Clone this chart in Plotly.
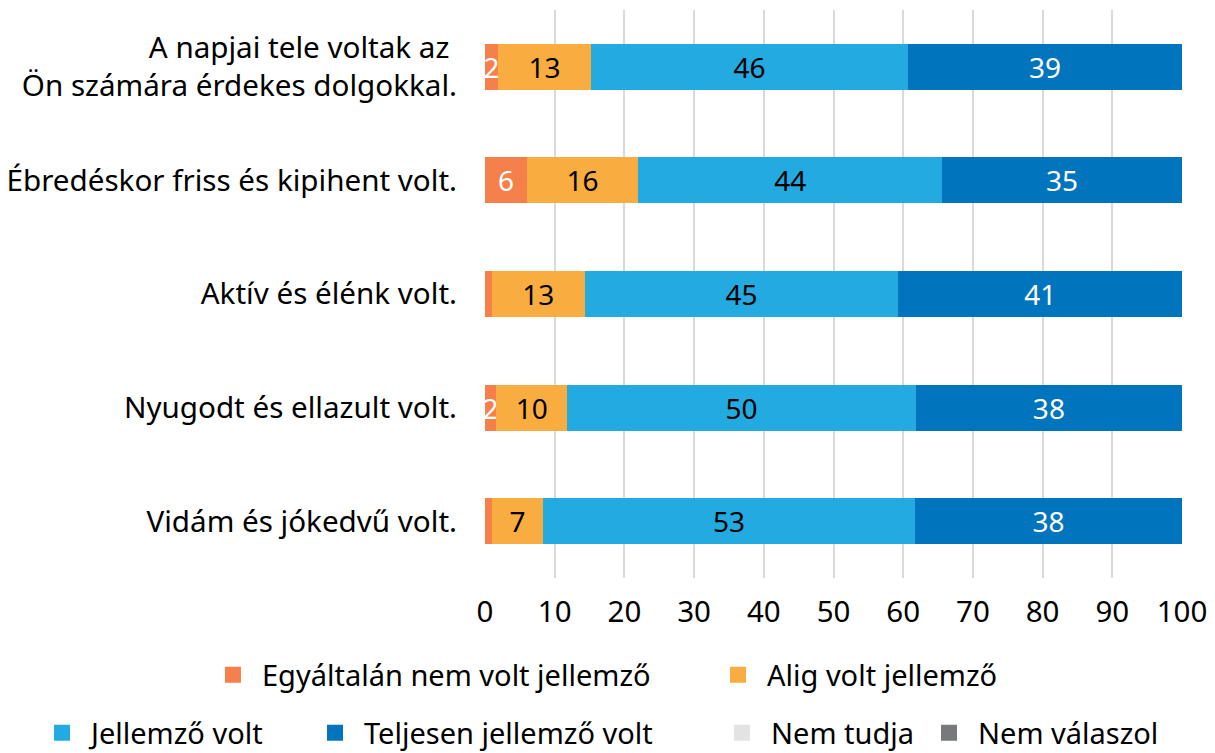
import plotly.graph_objects as go

categories = [
    "A napjai tele voltak az <br>Ön számára érdekes dolgokkal.",
    "Ébredéskor friss és kipihent volt.",
    "Aktív és élénk volt.",
    "Nyugodt és ellazult volt.",
    "Vidám és jókedvű volt.",
]
series_names = [
    "Egyáltalán nem volt jellemző",
    "Alig volt jellemző",
    "Jellemző volt",
    "Teljesen jellemző volt",
    "Nem tudja",
    "Nem válaszol",
]
egyaltalan = [1.9, 6.0, 1.0, 1.6, 1.0]
alig = [13.3, 16.0, 13.3, 10.2, 7.3]
jellemzo = [45.5, 43.6, 45.0, 50.0, 53.4]
teljesen = [39.3, 34.4, 40.7, 38.2, 38.3]
nem_tudja = [0, 0, 0, 0, 0]
nem_valaszol = [0, 0, 0, 0, 0]

labels_egyaltalan = ["2", "6", "", "2", ""]
labels_alig = ["13", "16", "13", "10", "7"]
labels_jellemzo = ["46", "44", "45", "50", "53"]
labels_teljesen = ["39", "35", "41", "38", "38"]

colors = ["#F5804B", "#F9AC3F", "#22AAE1", "#0174BE", "#E3E3E3", "#767A7A"]
text_colors = ["white", "black", "black", "white", "black", "white"]

values = [egyaltalan, alig, jellemzo, teljesen, nem_tudja, nem_valaszol]
texts = [labels_egyaltalan, labels_alig, labels_jellemzo, labels_teljesen,
         [""] * 5, [""] * 5]

FONT = "Noto Sans"
fig = go.Figure()
for i, name in enumerate(series_names):
    fig.add_trace(go.Bar(
        y=categories, x=values[i], orientation="h", name=name,
        marker=dict(color=colors[i], line=dict(width=0)),
        text=texts[i], textposition="inside", insidetextanchor="middle",
        textangle=0, constraintext="none",
        textfont=dict(color=text_colors[i], size=28, family=FONT),
        showlegend=False, hoverinfo="x+name",
    ))

# legend entries (one legend per entry, positioned like the reference)
legend_pos = [(-0.4032, -0.1708), (0.3214, -0.1708), (-0.6485, -0.2725),
              (-0.2568, -0.2725), (0.3271, -0.2725), (0.6241, -0.2725)]
for i, name in enumerate(series_names):
    lg = "legend" if i == 0 else f"legend{i+1}"
    fig.add_trace(go.Scatter(
        x=[None], y=[None], mode="markers", name=name,
        marker=dict(symbol="square", size=16, color=colors[i]),
        showlegend=True, legend=lg,
    ))

layout_legends = {}
for i, (lx, ly) in enumerate(legend_pos):
    key = "legend" if i == 0 else f"legend{i+1}"
    layout_legends[key] = dict(
        x=lx, y=ly, xanchor="left", yanchor="middle", orientation="h",
        font=dict(size=29, family=FONT, color="black"),
        bgcolor="rgba(0,0,0,0)", itemsizing="trace", itemwidth=48,
        tracegroupgap=0,
    )

fig.update_layout(
    barmode="stack",
    bargap=0.595,
    width=1207, height=745,
    margin=dict(l=477, r=33, t=2, b=175, autoexpand=False),
    plot_bgcolor="white", paper_bgcolor="white",
    font=dict(family=FONT, size=29, color="black"),
    xaxis=dict(range=[0, 100], dtick=10, showgrid=True, gridcolor="#D9D9D9",
               gridwidth=2, zeroline=False, showline=False, automargin=False,
               tickfont=dict(size=29.5, family=FONT), ticklabelstandoff=13),
    yaxis=dict(autorange="reversed", showgrid=False, showline=False,
               automargin=False,
               tickfont=dict(size=29.6, family=FONT), ticklabelstandoff=27),
    **layout_legends,
)

fig.write_html("out.html")
